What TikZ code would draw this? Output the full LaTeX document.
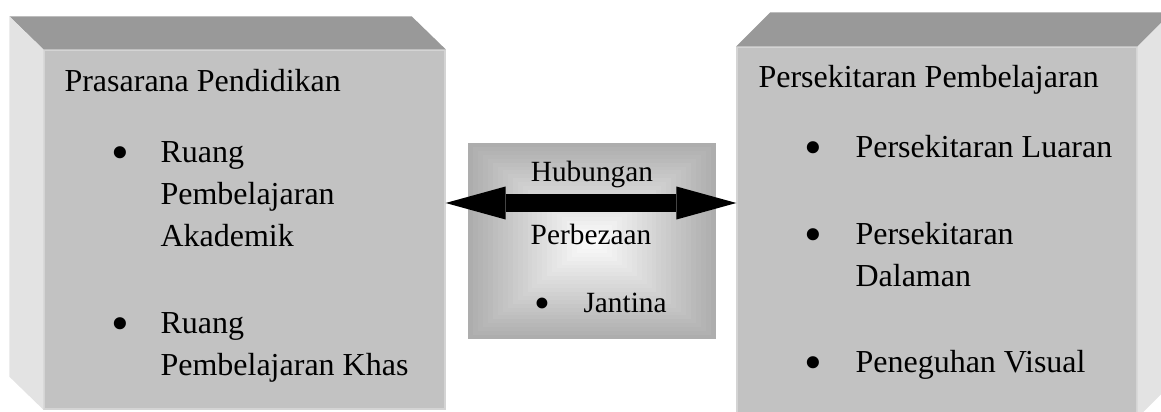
\documentclass[tikz,border=0pt]{standalone}
\usepackage{fontspec}
\setmainfont{Liberation Serif}
\usetikzlibrary{arrows.meta,positioning,fit}
\definecolor{facegray}{HTML}{C2C2C2}
\definecolor{topgray}{HTML}{999999}
\definecolor{sidegray}{HTML}{E3E3E3}
\definecolor{edgegray}{HTML}{D4D4D4}
\newcommand{\stack}[1]{\vtop{\halign{##\hfil\cr#1\crcr}}} % lines of an item, first baseline on top

\begin{document}
\begin{tikzpicture}[x=0.375pt,y=-0.375pt] % one unit is one pixel of the drawing
\tikzset{face/.style={fill=facegray,draw=edgegray,line width=0.5pt,inner sep=0pt}} % front of a box
\tikzset{lbl/.style={font=\fontsize{12}{15.75}\selectfont,inner sep=0pt,anchor=base west}} % text in the big boxes
\tikzset{dot/.style={font=\fontsize{19}{19}\selectfont,inner sep=0pt,anchor=center}} % bullets, placed by their middle
\tikzset{small/.style={font=\fontsize{11}{14}\selectfont,inner sep=0pt,anchor=base}} % text in the middle box
\tikzset{link/.style={line width=7.1pt,{Triangle[length=22.5pt,width=12.4pt,line width=0pt]}-{Triangle[length=22.5pt,width=12.4pt,line width=0pt]}}}
\useasboundingbox (0,0) rectangle (1161,412);
\clip (0,0) rectangle (1161,412);
% left box
\node[face,fit={(44,50) (445,409)}] (lface) {};
\fill[topgray] (lface.north west) -- ++(-34,-33) -- ([shift={(-34,-33)}]lface.north east) -- (lface.north east) -- cycle;
\fill[sidegray] (lface.north west) -- ++(-34,-33) -- ([shift={(-34,-33)}]lface.south west) -- (lface.south west) -- cycle;
% right box
\node[face,fit={(737,47) (1137,417)}] (rface) {};
\fill[topgray] (rface.north west) -- ++(34,-34) -- ([shift={(34,-34)}]rface.north east) -- (rface.north east) -- cycle;
\fill[sidegray] (rface.north east) -- ++(34,-34) -- ([shift={(34,-34)}]rface.south east) -- (rface.south east) -- cycle;
% middle box, shaded from the edge to the centre
\node[fill=black!32,inner sep=0pt,fit={(468,143) (716,339)}] (rel) {};
\foreach \i in {1,...,24}{
  \pgfmathsetmacro\s{32*(1-\i/25)}
  \pgfmathsetmacro\w{124*(1-\i/25)}
  \pgfmathsetmacro\h{98*(1-\i/25)}
  \fill[black!\s] ([shift={(-\w,-\h)}]rel.center) rectangle ([shift={(\w,\h)}]rel.center);
}
% texts
\node[lbl] (prasarana) at (64,92) {Prasarana Pendidikan};
\node[dot] (pa) at (120,158) {•};
\node[lbl] (akademik) at (160,163) {\stack{Ruang\cr Pembelajaran\cr Akademik}};
\node[dot] (pb) at (120,329) {•};
\node[lbl] (khas) at (160,334) {\stack{Ruang\cr Pembelajaran Khas}};
\node[lbl] (persekitaran) at (758,88) {Persekitaran Pembelajaran};
\node[dot] (qa) at (813,153) {•};
\node[lbl] (luaran) at (855,158) {Persekitaran Luaran};
\node[dot] (qb) at (813,240) {•};
\node[lbl] (dalaman) at (855,245) {\stack{Persekitaran\cr Dalaman}};
\node[dot] (qc) at (813,368) {•};
\node[lbl] (visual) at (855,373) {Peneguhan Visual};
\node[small] (hubungan) at (592,182) {Hubungan};
\node[small] (perbezaan) at (591,245) {Perbezaan};
\node[dot,font=\fontsize{17}{17}\selectfont] (pj) at (542,308) {•};
\node[small,anchor=base west] (jantina) at (583,313) {Jantina};
% the two way arrow
\coordinate (mid) at (592,203);
\draw[link] (lface.east |- mid) -- (rface.west |- mid);
\end{tikzpicture}
\end{document}
